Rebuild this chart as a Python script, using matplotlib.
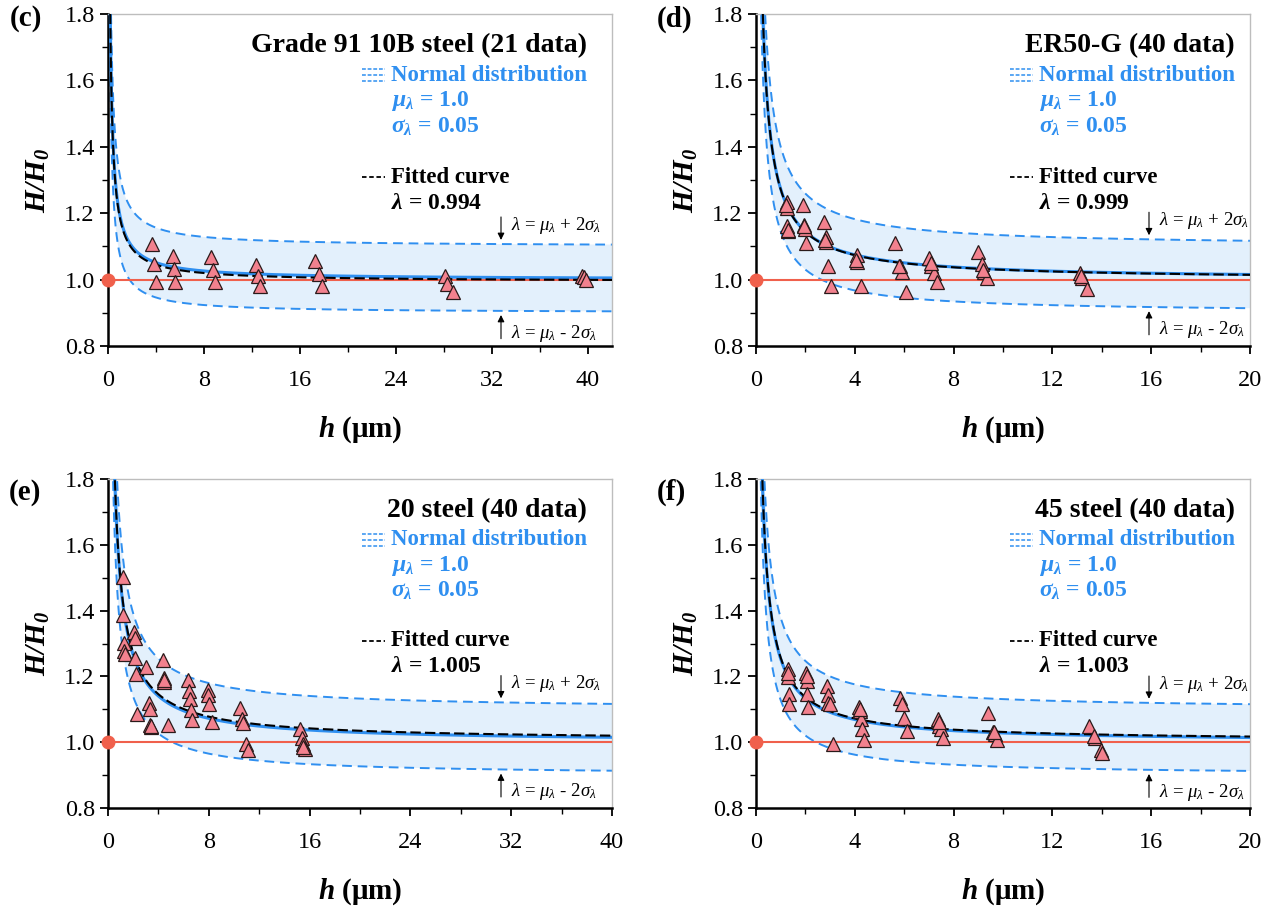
import numpy as np
import matplotlib.pyplot as plt
from matplotlib.lines import Line2D
from matplotlib.ticker import MultipleLocator

plt.rcParams['font.family'] = ['Liberation Serif', 'DejaVu Serif']
plt.rcParams['mathtext.fontset'] = 'custom'
plt.rcParams['mathtext.rm'] = 'Liberation Serif'
plt.rcParams['mathtext.it'] = 'Liberation Serif:italic'
plt.rcParams['mathtext.bf'] = 'Liberation Serif:bold'
plt.rcParams['mathtext.bfit'] = 'Liberation Serif:bold:italic'

# ----------------- DATA -----------------
h_c = [3.68, 3.82, 3.97, 5.38, 5.52, 5.58, 8.58, 8.78, 8.92, 12.32, 12.46,
       12.66, 17.28, 17.56, 17.85, 28.05, 28.24, 28.75, 39.5, 39.7, 39.8]
r_c = [1.106, 1.047, 0.992, 1.071, 1.032, 0.992, 1.068, 1.029, 0.992, 1.044,
       1.012, 0.982, 1.056, 1.017, 0.982, 1.010, 0.987, 0.962, 1.012, 1.007, 0.999]

h_d = [1.25, 1.25, 1.25, 1.28, 1.91, 1.96, 1.99, 2.04, 2.77, 2.82, 2.85, 2.93,
       3.04, 4.07, 4.10, 4.26, 5.64, 5.83, 5.90, 6.06, 7.00, 7.08, 7.20, 7.31,
       8.99, 9.15, 9.24, 9.35, 13.1, 13.2, 13.4, 1.30, 1.95, 2.80, 4.05, 5.80,
       7.10, 9.20, 13.15, 1.20]
r_d = [1.233, 1.217, 1.160, 1.146, 1.225, 1.165, 1.153, 1.110, 1.175, 1.128,
       1.114, 1.042, 0.982, 1.074, 1.054, 0.982, 1.110, 1.042, 1.022, 0.962,
       1.066, 1.042, 1.019, 0.992, 1.084, 1.047, 1.022, 1.004, 1.019, 1.005,
       0.972, 1.150, 1.160, 1.120, 1.060, 1.040, 1.050, 1.030, 1.010, 1.225]

h_e = [1.21, 1.21, 2.08, 2.13, 1.27, 1.27, 1.32, 2.13, 2.19, 3.05, 4.34, 4.45,
       4.45, 6.34, 6.39, 6.47, 7.90, 7.96, 8.01, 3.24, 3.32, 2.29, 3.37, 3.43,
       4.77, 6.61, 6.66, 8.23, 10.44, 10.60, 10.71, 10.98, 11.11, 15.24, 15.38,
       15.51, 15.65, 15.50, 4.45, 3.40]
r_e = [1.501, 1.386, 1.334, 1.316, 1.301, 1.276, 1.269, 1.256, 1.207, 1.229,
       1.251, 1.194, 1.182, 1.190, 1.157, 1.132, 1.159, 1.144, 1.117, 1.120,
       1.100, 1.087, 1.052, 1.047, 1.052, 1.097, 1.067, 1.062, 1.104, 1.070,
       1.057, 0.994, 0.977, 1.040, 1.012, 0.994, 0.980, 0.985, 1.188, 1.050]

h_f = [1.28, 1.28, 1.32, 1.32, 2.04, 2.07, 2.07, 2.10, 2.88, 2.93, 2.93, 2.98,
       3.13, 4.18, 4.23, 4.26, 4.30, 4.38, 5.83, 5.90, 6.01, 6.11, 7.36, 7.42,
       7.47, 7.58, 9.40, 9.61, 9.66, 9.77, 13.5, 13.73, 13.97, 14.0, 1.28, 2.05,
       4.20, 7.40, 9.65, 13.7]
r_f = [1.221, 1.198, 1.146, 1.116, 1.211, 1.186, 1.148, 1.108, 1.171, 1.144,
       1.118, 1.116, 0.994, 1.108, 1.094, 1.069, 1.040, 1.007, 1.134, 1.116,
       1.075, 1.035, 1.069, 1.049, 1.039, 1.014, 1.089, 1.032, 1.025, 1.007,
       1.049, 1.012, 0.977, 0.967, 1.210, 1.200, 1.100, 1.060, 1.030, 1.020]

titles = ["Grade 91 10B steel (21 data)", "ER50-G (40 data)",
          "20 steel (40 data)", "45 steel (40 data)"]
tags = ["(c)", "(d)", "(e)", "(f)"]
lam_fit = [0.994, 0.999, 1.005, 1.003]
h_star = [0.42, 0.62, 1.2, 0.57]
x_max = [42, 20, 40, 20]
x_major = [8, 4, 8, 4]
mu_lam = 1.0
sig_lam = 0.05

h_data = [h_c, h_d, h_e, h_f]
r_data = [r_c, r_d, r_e, r_f]

BLUE = '#2f8ff0'
FILL = '#e3f0fc'
RED = '#f0604c'
PINK = '#f2818e'

W, H = 1267, 907
fig = plt.figure(figsize=(W / 100, H / 100), dpi=100)

# axes boxes in pixels: left, top, right, bottom
boxes = [(108, 14, 612, 346), (756, 14, 1250, 346),
         (108, 479, 612, 808), (756, 479, 1250, 808)]
tag_pos = [(10, 19), (657, 19), (9, 492), (657, 492)]

for i in range(4):
    l, t, r, b = boxes[i]
    wpx = r - l
    ax = fig.add_axes([l / W, 1 - b / H, wpx / W, (b - t) / H])

    h = np.geomspace(0.005, x_max[i], 1500)
    base = np.sqrt(1 + h_star[i] / h)
    up = (mu_lam + 2 * sig_lam) * base
    lo = (mu_lam - 2 * sig_lam) * base

    ax.fill_between(h, lo, up, color=FILL, lw=0, zorder=1)
    ax.plot(h, up, ls=(0, (5, 3)), color=BLUE, lw=1.4, zorder=2)
    ax.plot(h, lo, ls=(0, (5, 3)), color=BLUE, lw=1.4, zorder=2)
    ax.plot(h, mu_lam * base, color=BLUE, lw=2.2, zorder=3)
    ax.plot(h, lam_fit[i] * base, ls=(0, (5, 2)), color='black', lw=1.5, zorder=4)
    ax.axhline(1.0, color=RED, lw=1.5, zorder=3)
    ax.plot([0], [1.0], 'o', color=RED, ms=9, clip_on=False, zorder=6)

    ax.plot(h_data[i], r_data[i], '^', mfc=PINK, mec='#2a1a1a', mew=0.9,
            ms=9.5, ls='none', zorder=5)

    ax.set_xlim(0, x_max[i])
    ax.set_ylim(0.8, 1.8)
    ax.xaxis.set_major_locator(MultipleLocator(x_major[i]))
    ax.xaxis.set_minor_locator(MultipleLocator(x_major[i] / 2))
    ax.yaxis.set_major_locator(MultipleLocator(0.2))
    ax.yaxis.set_minor_locator(MultipleLocator(0.1))
    ax.yaxis.set_major_formatter(plt.FuncFormatter(lambda v, p: f"{v:.1f}"))
    ax.tick_params(which='major', direction='out', length=6, width=1.3,
                   labelsize=17.5)
    ax.tick_params(which='minor', direction='out', length=4, width=1.0)
    ax.tick_params(axis='x', which='major', pad=11)

    for s in ['left', 'bottom']:
        ax.spines[s].set_linewidth(1.8)
    for s in ['top', 'right']:
        ax.spines[s].set_color('#bdbdbd')
        ax.spines[s].set_linewidth(1.0)

    ax.set_ylabel(r"$\mathbfit{H/H_0}$", fontsize=21, labelpad=9)
    ax.set_xlabel(r"$\mathbfit{h}$ (μm)", fontsize=21, fontweight='bold',
                  labelpad=17)

    # texts, placed by pixel offset from the left spine
    fx_icon0 = 254 / wpx
    fx_icon1 = 277 / wpx
    fx_txt = 283 / wpx
    fx_title = 479 / wpx
    ax.text(fx_title, 0.905, titles[i], transform=ax.transAxes, ha='right',
            va='center', fontsize=20, fontweight='bold')
    ax.text(fx_txt, 0.815, "Normal distribution", transform=ax.transAxes,
            va='center', fontsize=16.5, fontweight='bold', color=BLUE)
    for dy in (0.018, 0.0, -0.018):
        ax.add_line(Line2D([fx_icon0, fx_icon1], [0.815 + dy, 0.815 + dy],
                           transform=ax.transAxes, color=BLUE, lw=1.1,
                           ls=(0, (2.5, 1.2))))
    ax.text(fx_txt, 0.737, r"$\mathbfit{\mu_{\lambda}}$ = 1.0",
            transform=ax.transAxes, va='center', fontsize=17,
            fontweight='bold', color=BLUE)
    ax.text(fx_txt, 0.66, r"$\mathbfit{\sigma_{\lambda}}$ = 0.05",
            transform=ax.transAxes, va='center', fontsize=17,
            fontweight='bold', color=BLUE)
    ax.add_line(Line2D([fx_icon0, fx_icon1], [0.508, 0.508],
                       transform=ax.transAxes, color='black', lw=1.3,
                       ls=(0, (2.5, 1.5))))
    ax.text(fx_txt, 0.508, "Fitted curve", transform=ax.transAxes,
            va='center', fontsize=16.5, fontweight='bold')
    ax.text(fx_txt, 0.43, r"$\mathbfit{\lambda}$ = %.3f" % lam_fit[i],
            transform=ax.transAxes, va='center', fontsize=17,
            fontweight='bold')

    # arrows to the bands
    xa = 393 / wpx * x_max[i]
    b_up = (mu_lam + 2 * sig_lam) * np.sqrt(1 + h_star[i] / xa)
    b_lo = (mu_lam - 2 * sig_lam) * np.sqrt(1 + h_star[i] / xa)
    ax.annotate("", xy=(xa, b_up + 0.004), xytext=(xa, b_up + 0.09),
                arrowprops=dict(arrowstyle='-|>', color='black', lw=0.8,
                                mutation_scale=10), zorder=7)
    ax.annotate("", xy=(xa, b_lo - 0.004), xytext=(xa, b_lo - 0.092),
                arrowprops=dict(arrowstyle='-|>', color='black', lw=0.8,
                                mutation_scale=10), zorder=7)
    xt = xa + 10 / wpx * x_max[i]
    ax.text(xt, b_up + 0.057,
            r"$\lambda$ = $\mu_{\lambda}$ + 2$\sigma_{\lambda}$",
            fontsize=13.5, va='center')
    ax.text(xt, b_lo - 0.068,
            r"$\lambda$ = $\mu_{\lambda}$ - 2$\sigma_{\lambda}$",
            fontsize=13.5, va='center')

    fig.text(tag_pos[i][0] / W, 1 - tag_pos[i][1] / H, tags[i], fontsize=21,
             fontweight='bold', va='center')

fig.savefig('out.png', dpi=100)
